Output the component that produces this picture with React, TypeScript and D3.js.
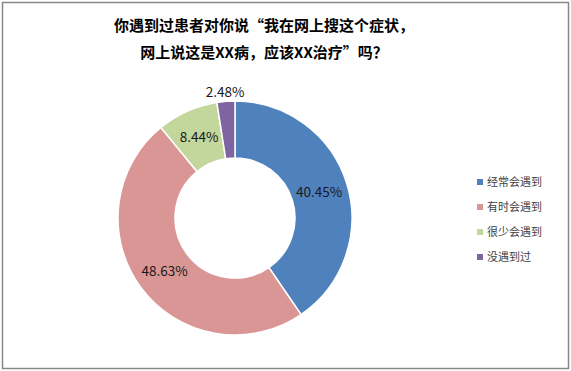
import React, { useEffect, useRef } from "react";
import * as d3 from "d3";

// chart data
const categories = ["经常会遇到", "有时会遇到", "很少会遇到", "没遇到过"];
const values = [40.45, 48.63, 8.44, 2.48];
const colors = ["#4F81BD", "#D99694", "#C3D69B", "#8064A2"];
const titleLines = ["你遇到过患者对你说“我在网上搜这个症状，", "网上说这是XX病，应该XX治疗”吗？"];

const FONT = "'Noto Sans CJK SC', 'Noto Sans', sans-serif";

export default function App() {
  const ref = useRef<SVGSVGElement>(null);

  useEffect(() => {
    const svg = d3.select(ref.current);
    svg.selectAll("*").remove();

    const width = 571;
    const height = 371;
    const cx = 235;
    const cy = 218;
    const outerR = 117;
    const innerR = 60;

    svg.append("rect")
      .attr("x", 0).attr("y", 0)
      .attr("width", width).attr("height", height)
      .attr("fill", "#fff");

    // frame
    svg.append("rect")
      .attr("x", 2.5).attr("y", 2.5)
      .attr("width", 566).attr("height", 366)
      .attr("fill", "none")
      .attr("stroke", "#888")
      .attr("stroke-width", 1.5);

    // title
    svg.append("g")
      .selectAll("text")
      .data(titleLines)
      .enter()
      .append("text")
      .attr("x", 264)
      .attr("y", (d, i) => 31 + i * 27)
      .attr("text-anchor", "middle")
      .attr("font-family", FONT)
      .attr("font-size", 15)
      .attr("font-weight", "bold")
      .attr("fill", "#000")
      .text(d => d);

    const pie = d3.pie<number>().sort(null).value(d => d);
    const arcs = pie(values);
    const arc = d3.arc<d3.PieArcDatum<number>>().innerRadius(innerR).outerRadius(outerR);
    const labelArc = d3.arc<d3.PieArcDatum<number>>().innerRadius(88).outerRadius(88);
    const outArc = d3.arc<d3.PieArcDatum<number>>().innerRadius(126).outerRadius(126);

    const g = svg.append("g").attr("transform", `translate(${cx},${cy})`);

    g.selectAll("path")
      .data(arcs)
      .enter()
      .append("path")
      .attr("d", arc)
      .attr("fill", (d, i) => colors[i])
      .attr("stroke", "#fff")
      .attr("stroke-width", 1.5);

    g.selectAll("text")
      .data(arcs)
      .enter()
      .append("text")
      .attr("transform", d => {
        const p = d.data < 5 ? outArc.centroid(d) : labelArc.centroid(d);
        return `translate(${p[0]},${p[1]})`;
      })
      .attr("text-anchor", "middle")
      .attr("dy", "0.35em")
      .attr("font-family", FONT)
      .attr("font-size", 13.5)
      .attr("fill", "#1a1a1a")
      .text(d => d.data.toFixed(2) + "%");

    // legend
    const legend = svg.append("g").attr("transform", "translate(477,182)");
    const rows = legend.selectAll("g")
      .data(categories)
      .enter()
      .append("g")
      .attr("transform", (d, i) => `translate(0,${i * 25})`);

    rows.append("rect")
      .attr("x", 0).attr("y", -3)
      .attr("width", 6).attr("height", 6)
      .attr("fill", (d, i) => colors[i]);

    rows.append("text")
      .attr("x", 10)
      .attr("dy", "0.35em")
      .attr("font-family", FONT)
      .attr("font-size", 11)
      .attr("fill", "#404040")
      .text(d => d);
  }, []);

  return (
    <svg ref={ref} width={571} height={371} style={{ position: "absolute", left: 0, top: 0 }} />
  );
}
